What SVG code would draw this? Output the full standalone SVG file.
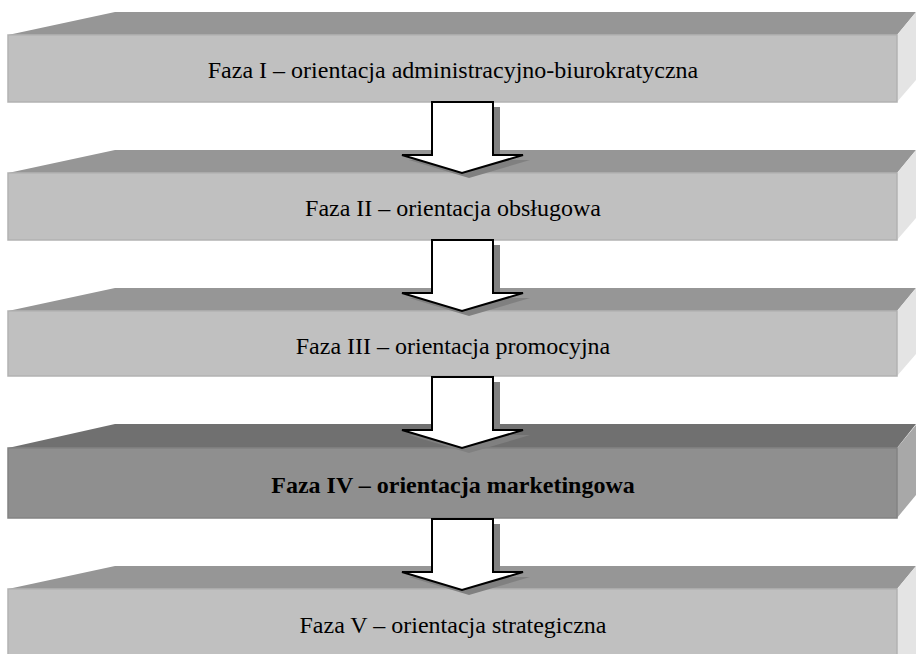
<svg xmlns="http://www.w3.org/2000/svg" width="916" height="654" viewBox="0 0 916 654">
<style>
.front{fill:#c0c0c0;stroke:#b2b2b2;stroke-width:1.5}
.top{fill:#969696}
.side{fill:#e4e4e4}
.front4{fill:#8f8f8f;stroke:#838383;stroke-width:1.5}
.top4{fill:#707070}
.side4{fill:#a8a8a8}
.lbl{font-family:"Liberation Serif","Times New Roman",serif;font-size:24px;fill:#000;text-anchor:middle}
.bold{font-weight:bold}
.arrow{fill:#fff;stroke:#000;stroke-width:2;stroke-linejoin:miter}
.shadow{fill:#808080}
</style>
<rect width="916" height="654" fill="#fff"/>
<g id="phase1">
<polygon class="top" points="8,35 115,12 916,12 897,35"/>
<polygon class="side" points="897,35 916,12 916,80 897,102"/>
<rect class="front" x="8" y="35" width="889" height="67"/>
<text class="lbl" x="453" y="78">Faza I – orientacja administracyjno-biurokratyczna</text>
</g>
<g id="phase2">
<polygon class="top" points="8,173 115,150 916,150 897,173"/>
<polygon class="side" points="897,173 916,150 916,218 897,240"/>
<rect class="front" x="8" y="173" width="889" height="67"/>
<text class="lbl" x="453" y="216">Faza II – orientacja obsługowa</text>
</g>
<g id="phase3">
<polygon class="top" points="8,311 115,288 916,288 897,311"/>
<polygon class="side" points="897,311 916,288 916,354 897,376"/>
<rect class="front" x="8" y="311" width="889" height="65"/>
<text class="lbl" x="453" y="354">Faza III – orientacja promocyjna</text>
</g>
<g id="phase4">
<polygon class="top4" points="8,448 115,424 916,424 897,448"/>
<polygon class="side4" points="897,448 916,425 916,495 897,518"/>
<rect class="front4" x="8" y="448" width="889" height="70"/>
<text class="lbl bold" x="453" y="493">Faza IV – orientacja marketingowa</text>
</g>
<g id="phase5">
<polygon class="top" points="8,589 115,566 916,566 897,589"/>
<polygon class="side" points="897,589 916,566 916,654 897,654"/>
<rect class="front" x="8" y="589" width="889" height="80"/>
<text class="lbl" x="453" y="633">Faza V – orientacja strategiczna</text>
</g>
<g id="connectors">
<g transform="translate(0,102)">
<polygon class="shadow" points="439,5 500,5 500,58 530,58 469,76 409,58 439,58"/>
<polygon class="arrow" points="432,0 493,0 493,53 523,53 462,71 402,53 432,53"/>
</g>
<g transform="translate(0,240)">
<polygon class="shadow" points="439,5 500,5 500,58 530,58 469,76 409,58 439,58"/>
<polygon class="arrow" points="432,0 493,0 493,53 523,53 462,71 402,53 432,53"/>
</g>
<g transform="translate(0,377)">
<polygon class="shadow" points="439,5 500,5 500,58 530,58 469,76 409,58 439,58"/>
<polygon class="arrow" points="432,0 493,0 493,53 523,53 462,71 402,53 432,53"/>
</g>
<g transform="translate(0,519)">
<polygon class="shadow" points="439,5 500,5 500,58 530,58 469,76 409,58 439,58"/>
<polygon class="arrow" points="432,0 493,0 493,53 523,53 462,71 402,53 432,53"/>
</g>
</g>
</svg>
